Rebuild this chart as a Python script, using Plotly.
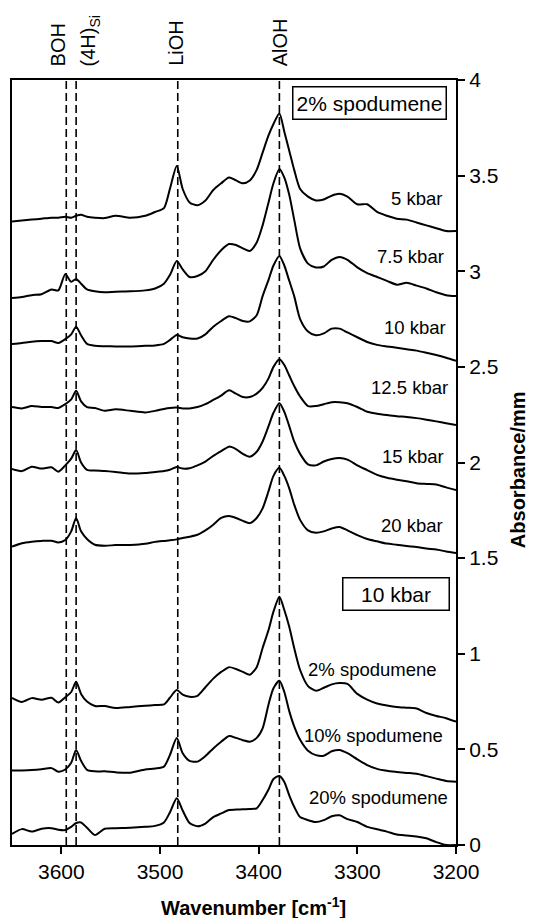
import plotly.graph_objects as go

# Wavenumber grid (cm-1) shared by all spectra
WAVENUMBER = [
    3650, 3640, 3630, 3620, 3610, 3603, 3596, 3590, 3585, 3580,
    3574, 3566, 3556, 3545, 3530, 3515, 3505, 3496, 3490, 3483,
    3477, 3470, 3462, 3454, 3446, 3438, 3430, 3423, 3416, 3409,
    3402, 3396, 3390, 3385, 3379, 3374, 3369, 3364, 3358, 3350,
    3342, 3334, 3326, 3318, 3310, 3300, 3290, 3280, 3270, 3260,
    3250, 3240, 3230, 3220, 3210, 3200,
]

# 2% spodumene, pressure series (offset absorbance/mm)
KBAR_5 = [
    3.26, 3.265, 3.27, 3.275, 3.28, 3.28, 3.285, 3.28, 3.29, 3.295,
    3.285, 3.28, 3.278, 3.29, 3.28, 3.29, 3.31, 3.33, 3.43, 3.55,
    3.43, 3.36, 3.345, 3.37, 3.425, 3.46, 3.49, 3.475, 3.46, 3.475,
    3.53, 3.62, 3.71, 3.77, 3.825, 3.73, 3.63, 3.53, 3.43, 3.39,
    3.37, 3.375, 3.395, 3.405, 3.39, 3.35, 3.35, 3.31, 3.29, 3.275,
    3.27, 3.255, 3.24, 3.225, 3.21, 3.21,
]
KBAR_7_5 = [
    2.86, 2.865, 2.875, 2.88, 2.905, 2.90, 2.985, 2.945, 2.96, 2.935,
    2.905, 2.895, 2.89, 2.893, 2.895, 2.90, 2.91, 2.935, 2.98, 3.053,
    3.01, 2.97, 2.975, 3.00, 3.06, 3.11, 3.142, 3.137, 3.12, 3.106,
    3.15, 3.24, 3.36, 3.46, 3.535, 3.49, 3.40, 3.27, 3.12, 3.04,
    3.02, 3.025, 3.06, 3.075, 3.06, 3.02, 2.99, 2.97, 2.95, 2.93,
    2.94, 2.925, 2.91, 2.89, 2.875, 2.87,
]
KBAR_10 = [
    2.62, 2.625, 2.632, 2.635, 2.635, 2.625, 2.645, 2.67, 2.71, 2.665,
    2.62, 2.61, 2.608, 2.607, 2.607, 2.61, 2.612, 2.62, 2.64, 2.667,
    2.655, 2.648, 2.648, 2.67, 2.71, 2.74, 2.765, 2.755, 2.74, 2.738,
    2.77, 2.87, 2.955, 3.03, 3.08, 3.03, 2.95, 2.87, 2.75, 2.685,
    2.665, 2.675, 2.70, 2.70, 2.68, 2.655, 2.63, 2.615, 2.607, 2.60,
    2.592, 2.585, 2.574, 2.562, 2.548, 2.532,
]
KBAR_12_5 = [
    2.29, 2.283, 2.295, 2.29, 2.29, 2.285, 2.305, 2.33, 2.375, 2.32,
    2.29, 2.285, 2.27, 2.278, 2.27, 2.262, 2.27, 2.28, 2.285, 2.287,
    2.283, 2.283, 2.29, 2.305, 2.327, 2.35, 2.378, 2.36, 2.342, 2.342,
    2.36, 2.39, 2.44, 2.50, 2.54, 2.51, 2.455, 2.40, 2.345, 2.295,
    2.295, 2.305, 2.315, 2.315, 2.31, 2.29, 2.265, 2.255, 2.248, 2.242,
    2.238, 2.232, 2.224, 2.215, 2.205, 2.196,
]
KBAR_15 = [
    1.966, 1.955, 1.978, 1.968, 1.975, 1.952, 1.985, 2.02, 2.065, 2.0,
    1.962, 1.958, 1.955, 1.95, 1.942, 1.945, 1.95, 1.955, 1.962, 1.976,
    1.968, 1.97, 1.985, 2.005, 2.035, 2.06, 2.083, 2.07, 2.045, 2.03,
    2.056, 2.11, 2.19, 2.26, 2.31, 2.265, 2.19, 2.11, 2.045, 1.99,
    1.985, 2.005, 2.018, 2.023, 2.015, 1.985, 1.96, 1.935, 1.92, 1.91,
    1.902, 1.892, 1.888, 1.885, 1.87, 1.856,
]
KBAR_20 = [
    1.56, 1.578, 1.586, 1.59, 1.591, 1.582, 1.595, 1.64, 1.71, 1.64,
    1.60, 1.57, 1.565, 1.568, 1.569, 1.575, 1.585, 1.59, 1.593, 1.598,
    1.605, 1.612, 1.622, 1.645, 1.675, 1.71, 1.72, 1.71, 1.695, 1.683,
    1.71, 1.76, 1.85, 1.93, 1.972, 1.93, 1.865, 1.78, 1.70, 1.645,
    1.633, 1.64, 1.655, 1.663, 1.645, 1.62, 1.60, 1.588, 1.576, 1.57,
    1.563, 1.558, 1.55, 1.545, 1.535, 1.527,
]

# 10 kbar, composition series
SPOD_2 = [
    0.769, 0.748, 0.768, 0.76, 0.77, 0.745, 0.772, 0.80, 0.854, 0.79,
    0.75, 0.727, 0.727, 0.716, 0.722, 0.728, 0.732, 0.735, 0.77, 0.81,
    0.786, 0.775, 0.78, 0.825, 0.87, 0.905, 0.93, 0.92, 0.905, 0.89,
    0.93, 1.03, 1.124, 1.22, 1.298, 1.229, 1.141, 1.03, 0.915, 0.831,
    0.807, 0.822, 0.84, 0.847, 0.842, 0.79, 0.76, 0.74, 0.73, 0.722,
    0.718, 0.714, 0.69, 0.675, 0.663, 0.645,
]
SPOD_10 = [
    0.389, 0.39, 0.392, 0.396, 0.402, 0.383, 0.395, 0.43, 0.497, 0.44,
    0.393, 0.385, 0.385, 0.38, 0.378, 0.395, 0.40, 0.41, 0.47, 0.559,
    0.48, 0.44, 0.436, 0.465, 0.505, 0.54, 0.57, 0.56, 0.548, 0.54,
    0.56, 0.61, 0.735, 0.82, 0.859, 0.80, 0.70, 0.62, 0.55, 0.493,
    0.47, 0.467, 0.49, 0.497, 0.48, 0.448, 0.418, 0.398, 0.388, 0.382,
    0.377, 0.372, 0.36, 0.347, 0.335, 0.331,
]
SPOD_20 = [
    0.058, 0.083, 0.07, 0.085, 0.088, 0.08, 0.078, 0.095, 0.115, 0.118,
    0.09, 0.052, 0.085, 0.088, 0.09, 0.095, 0.10, 0.118, 0.17, 0.245,
    0.18, 0.115, 0.098, 0.112, 0.146, 0.165, 0.183, 0.185, 0.187, 0.188,
    0.192, 0.235, 0.29, 0.345, 0.361, 0.33, 0.26, 0.20, 0.146, 0.13,
    0.12, 0.13, 0.15, 0.155, 0.135, 0.12, 0.095, 0.082, 0.07, 0.055,
    0.05, 0.045, 0.035, 0.015, 0.0, 0.0,
]

SPECTRA = [KBAR_5, KBAR_7_5, KBAR_10, KBAR_12_5, KBAR_15, KBAR_20,
           SPOD_2, SPOD_10, SPOD_20]
SPECTRA_LABELS = ["5 kbar", "7.5 kbar", "10 kbar", "12.5 kbar", "15 kbar",
                  "20 kbar", "2% spodumene", "10% spodumene", "20% spodumene"]

# OH band assignments
BAND_POS = [3595, 3585, 3482, 3379]
BAND_LABELS = ["BOH", "(4H)<sub>Si</sub>", "LiOH", "AlOH"]

X_TICKS = [3600, 3500, 3400, 3300, 3200]
Y_TICKS = [0, 0.5, 1, 1.5, 2, 2.5, 3, 3.5, 4]
Y_TICK_TEXT = ["0", "0.5", "1", "1.5", "2", "2.5", "3", "3.5", "4"]

FONT = "Liberation Sans, Arial, sans-serif"

fig = go.Figure()

for ys, name in zip(SPECTRA, SPECTRA_LABELS):
    fig.add_trace(go.Scatter(
        x=WAVENUMBER, y=ys, mode="lines", name=name,
        line=dict(color="black", width=2, shape="spline", smoothing=0.7),
        showlegend=False, hoverinfo="skip",
    ))

# dashed band markers
for pos in BAND_POS:
    fig.add_shape(type="line", xref="x", yref="paper", x0=pos, x1=pos,
                  y0=0, y1=1, line=dict(color="black", width=1.6, dash="8px,4px"),
                  layer="below")

annotations = []

# band names above the frame, rotated
band_label_x = [3603.5, 3571, 3484, 3378]
for x, txt in zip(band_label_x, BAND_LABELS):
    annotations.append(dict(
        x=x, y=1, xref="x", yref="paper", text=txt, textangle=-90,
        xanchor="center", yanchor="bottom", yshift=12, showarrow=False,
        font=dict(family=FONT, size=20, color="black"),
    ))

# curve labels (right aligned, y in absorbance units)
label_pos = [
    (3212.5, 3.383), (3210.5, 3.075), (3208.5, 2.708), (3206.5, 2.39),
    (3210.5, 2.029), (3211.5, 1.673), (3217.5, 0.92), (3211.5, 0.57),
    (3206.5, 0.246),
]
for (x, y), txt in zip(label_pos, SPECTRA_LABELS):
    annotations.append(dict(
        x=x, y=y, xref="x", yref="y", text=txt, xanchor="right",
        yanchor="middle", showarrow=False,
        font=dict(family=FONT, size=18.5, color="black"),
    ))

# boxed group headings
annotations.append(dict(
    x=3288, y=3.88, xref="x", yref="y", text="2% spodumene", showarrow=False,
    xanchor="center", yanchor="middle", width=146, height=25,
    bordercolor="black", borderwidth=1.5, borderpad=3, bgcolor="white",
    font=dict(family=FONT, size=21, color="black"),
))
annotations.append(dict(
    x=3261, y=1.312, xref="x", yref="y", text="10 kbar", showarrow=False,
    xanchor="center", yanchor="middle", width=99, height=25,
    bordercolor="black", borderwidth=1.5, borderpad=3, bgcolor="white",
    font=dict(family=FONT, size=21, color="black"),
))

# axis titles
annotations.append(dict(
    x=0.545, y=0, xref="paper", yref="paper", yshift=-61,
    text="<b>Wavenumber [cm<sup>-1</sup>]</b>", showarrow=False,
    xanchor="center", yanchor="middle",
    font=dict(family=FONT, size=20, color="black"),
))
annotations.append(dict(
    x=1, y=0.49, xref="paper", yref="paper", xshift=62,
    text="<b>Absorbance/mm</b>", textangle=-90, showarrow=False,
    xanchor="center", yanchor="middle",
    font=dict(family=FONT, size=20, color="black"),
))

fig.update_layout(
    width=534, height=918,
    margin=dict(l=10, r=78, t=80, b=73),
    paper_bgcolor="white", plot_bgcolor="white",
    font=dict(family=FONT, size=21, color="black"),
    annotations=annotations,
    xaxis=dict(
        range=[3650, 3200], tickvals=X_TICKS, ticks="outside", ticklen=7,
        tickwidth=2, tickcolor="black", showline=True, linecolor="black",
        linewidth=2, mirror=True, showgrid=False, zeroline=False,
        tickfont=dict(family=FONT, size=21, color="black"),
    ),
    yaxis=dict(
        range=[0, 4], side="right", tickvals=Y_TICKS, ticktext=Y_TICK_TEXT,
        ticks="outside", ticklen=7, tickwidth=2, tickcolor="black",
        showline=True, linecolor="black", linewidth=2, mirror=True,
        showgrid=False, zeroline=False,
        tickfont=dict(family=FONT, size=21, color="black"),
    ),
)

fig.write_html("out.html")
